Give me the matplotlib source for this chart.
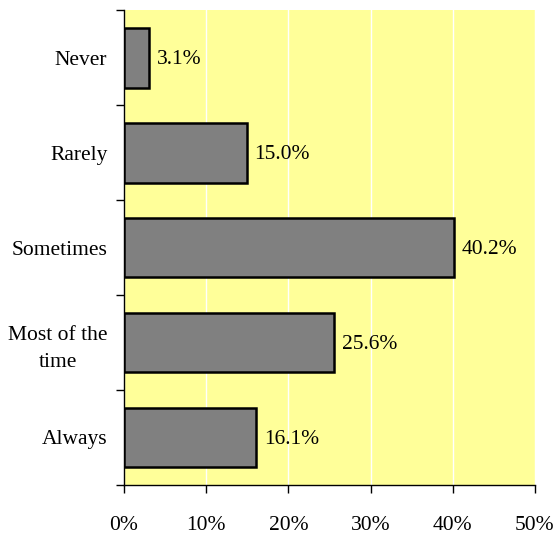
import matplotlib
matplotlib.use("Agg")
import matplotlib.pyplot as plt
from matplotlib import font_manager
from matplotlib.ticker import FuncFormatter, FixedLocator

categories = ["Never", "Rarely", "Sometimes", "Most of the\ntime", "Always"]
values = [3.1, 15.0, 40.2, 25.6, 16.1]

# register Liberation Serif (Times-like) directly from its file
family = ['DejaVu Serif']
for f in font_manager.findSystemFonts():
    if f.endswith('LiberationSerif-Regular.ttf'):
        font_manager.fontManager.addfont(f)
        family = [font_manager.FontProperties(fname=f).get_name()] + family
        break
plt.rcParams['font.family'] = family
plt.rcParams['font.size'] = 15.5

fig = plt.figure(figsize=(5.56, 5.35), dpi=100)
ax = fig.add_axes([0.223, 0.0935, 0.739, 0.8875])
ax.set_facecolor('#FFFF99')

pos = list(range(len(categories)))
ax.barh(pos, values, height=0.63, color='#808080', edgecolor='black', linewidth=1.8, zorder=3)
for p, v in zip(pos, values):
    ax.text(v + 0.9, p + 0.02, f"{v:.1f}%", va='center', ha='left', zorder=4)

ax.set_xlim(0, 50)
ax.set_ylim(len(categories) - 0.5, -0.5)
ax.set_xticks([0, 10, 20, 30, 40, 50])
ax.xaxis.set_major_formatter(FuncFormatter(lambda x, _: f"{x:.0f}%"))
ax.grid(axis='x', color='white', linewidth=1, zorder=1)

# category labels centred in each slot, ticks on the slot boundaries
ax.yaxis.set_major_locator(FixedLocator([p - 0.5 for p in pos] + [len(pos) - 0.5]))
ax.yaxis.set_major_formatter(FuncFormatter(lambda y, _: ""))
ax.yaxis.set_minor_locator(FixedLocator(pos))
ax.set_yticklabels(categories, minor=True, ha='right', multialignment='center', linespacing=1.6)
ax.tick_params(axis='y', which='minor', length=0, pad=12)
ax.tick_params(axis='y', which='major', length=6, width=1)
ax.tick_params(axis='x', length=6, width=1, pad=16)

for s in ['top', 'right']:
    ax.spines[s].set_visible(False)
ax.spines['left'].set_linewidth(1)
ax.spines['bottom'].set_linewidth(1)

fig.savefig("out.png", dpi=100)
